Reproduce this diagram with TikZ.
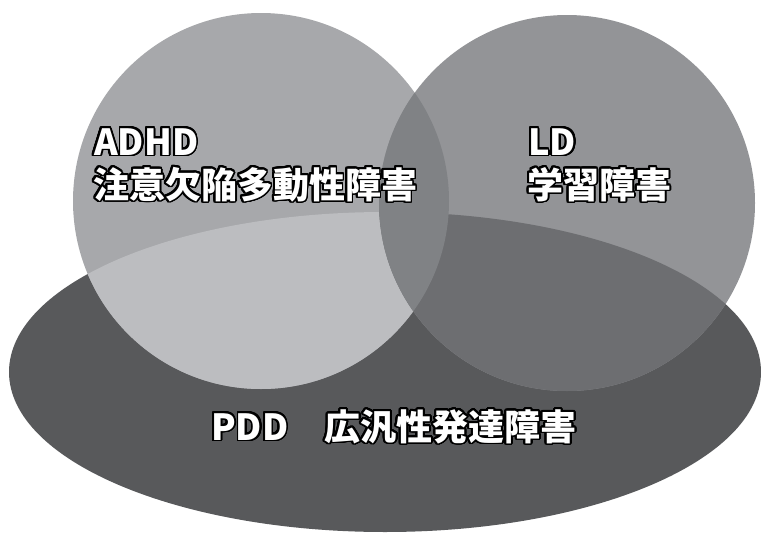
\documentclass[tikz,border=0pt]{standalone}
\usepackage{fontspec}
\newfontfamily\jp{Noto Sans CJK JP}
\usepackage[copies]{contour}
\contourlength{1.8pt}
\contournumber{32}
\definecolor{ellc}{HTML}{58595B}
\definecolor{leftc}{HTML}{A7A8AB}
\definecolor{rightc}{HTML}{939497}
\definecolor{lec}{HTML}{BCBDC0}
\definecolor{rec}{HTML}{6D6E71}
\definecolor{lrc}{HTML}{808285}
\tikzset{
  lab/.style={inner sep=0pt, anchor=base west, text=white,
    font=\jp\bfseries\fontsize{36}{42}\selectfont},
}
\begin{document}
\begin{tikzpicture}[x=1pt,y=-1pt]
\useasboundingbox (0,0) rectangle (761,533);
\def\ellpath{(385,372) ellipse [x radius=376, y radius=160]}
\def\lpath{(261,201) circle [radius=188]}
\def\rpath{(567,203) circle [radius=188]}
\fill[ellc] \ellpath;
\fill[leftc] \lpath;
\fill[rightc] \rpath;
\begin{scope}
  \clip \ellpath;
  \fill[lec] \lpath;
  \fill[rec] \rpath;
\end{scope}
\begin{scope}
  \clip \lpath;
  \fill[lrc] \rpath;
\end{scope}
\node[lab] (adhd) at (94,155) {\contour{black}{ADHD}};
\node[lab] (adhdjp) at (93,198) {\contour{black}{注意欠陥多動性障害}};
\node[lab] (ld) at (528,155) {\contour{black}{LD}};
\node[lab] (ldjp) at (527,198) {\contour{black}{学習障害}};
\node[lab] (pdd) at (211,440) {\contour{black}{PDD　広汎性発達障害}};
\end{tikzpicture}
\end{document}
